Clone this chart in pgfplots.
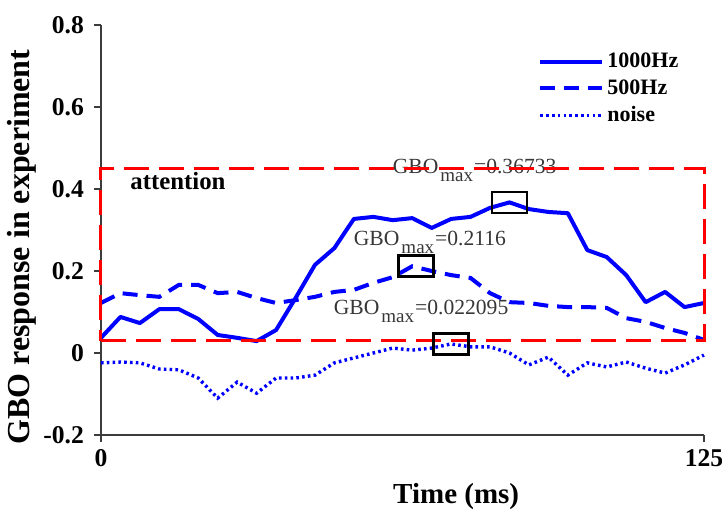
\documentclass[border=0pt]{standalone}
\usepackage{fontspec}
\setmainfont{Liberation Serif}
\usepackage{pgfplots}
\pgfplotsset{compat=1.18}
\definecolor{axisgray}{RGB}{60,60,60}
\definecolor{anngray}{RGB}{55,55,55}
\pgfdeclareplotmark{gbobox}{%
  \pgfpathrectangle{\pgfpoint{-8.75pt}{-5.25pt}}{\pgfpoint{17.5pt}{10.5pt}}%
  \pgfusepathqstroke}
\newcommand{\gbo}{GBO\kern1pt\raisebox{-4pt}{\fontsize{9.5}{10}\selectfont max}\kern0.5pt}
\begin{document}
\begin{tikzpicture}
\begin{axis}[
  scale only axis, width=301.5pt, height=205pt,
  xmin=0, xmax=31, ymin=-0.2, ymax=0.8,
  axis x line=bottom, axis y line=left,
  axis line style={-, line width=0.8pt, color=axisgray},
  xtick={0,31}, xticklabels={0,125},
  ytick={-0.2,0,0.2,0.4,0.6,0.8}, yticklabels={-0.2,0,0.2,0.4,0.6,0.8},
  tick align=outside, major tick length=3.5pt,
  tick style={line width=0.8pt, color=axisgray},
  tick label style={font=\bfseries\fontsize{12.8}{14}\selectfont},
  yticklabel style={xshift=-1.5pt},
  clip=false,
  xlabel={Time (ms)},
  xlabel style={at={(axis description cs:0.589,-0.151)}, anchor=center, font=\bfseries\fontsize{14.5}{16}\selectfont},
  ylabel={GBO response in experiment},
  ylabel style={at={(axis description cs:-0.131,0.4585)}, anchor=center, font=\bfseries\fontsize{16}{18}\selectfont},
  legend style={at={(axis description cs:0.7247,0.94)}, anchor=north west, draw=none, fill=none,
    inner sep=0pt, font=\bfseries\fontsize{11}{13}\selectfont, row sep=1.5pt,
    nodes={inner sep=1.5pt}},
  legend cell align=left,
  legend image code/.code={\draw[#1] (0pt,0pt) -- (31pt,0pt);},
]
% 1000Hz
\addplot[blue, line width=2pt, line join=round] coordinates {
(0,0.037)(1,0.088)(2,0.073)(3,0.107)(4,0.107)(5,0.083)(6,0.044)(7,0.037)
(8,0.029)(9,0.056)(10,0.134)(11,0.215)(12,0.256)(13,0.327)(14,0.332)(15,0.324)
(16,0.329)(17,0.305)(18,0.327)(19,0.332)(20,0.354)(21,0.36733)(22,0.351)(23,0.344)
(24,0.341)(25,0.251)(26,0.234)(27,0.190)(28,0.124)(29,0.149)(30,0.112)(31,0.122)};
\addlegendentry{1000Hz}
% 500Hz
\addplot[blue, line width=2pt, dash pattern=on 7.5pt off 4.5pt] coordinates {
(0,0.122)(1,0.146)(2,0.141)(3,0.137)(4,0.166)(5,0.166)(6,0.146)(7,0.149)
(8,0.134)(9,0.122)(10,0.129)(11,0.137)(12,0.149)(13,0.154)(14,0.171)(15,0.185)
(16,0.2116)(17,0.200)(18,0.190)(19,0.183)(20,0.146)(21,0.124)(22,0.122)(23,0.115)
(24,0.112)(25,0.112)(26,0.110)(27,0.085)(28,0.076)(29,0.061)(30,0.049)(31,0.032)};
\addlegendentry{500Hz}
% noise
\addplot[blue, line width=1.7pt, dash pattern=on 1.3pt off 1.6pt] coordinates {
(0,-0.024)(1,-0.022)(2,-0.024)(3,-0.039)(4,-0.041)(5,-0.061)(6,-0.110)(7,-0.071)
(8,-0.098)(9,-0.061)(10,-0.061)(11,-0.054)(12,-0.024)(13,-0.012)(14,0.000)(15,0.012)
(16,0.007)(17,0.012)(18,0.022095)(19,0.015)(20,0.015)(21,0.000)(22,-0.029)(23,-0.010)
(24,-0.054)(25,-0.024)(26,-0.034)(27,-0.022)(28,-0.037)(29,-0.049)(30,-0.029)(31,-0.005)};
\addlegendentry{noise}
% annotations
\node[anchor=base west, inner sep=0pt, text=anngray, font=\fontsize{10.8}{12}\selectfont] at (axis cs:14.98,0.439) {\gbo=0.36733};
\node[anchor=base west, inner sep=0pt, text=anngray, font=\fontsize{10.8}{12}\selectfont] at (axis cs:12.98,0.263) {\gbo=0.2116};
\node[anchor=base west, inner sep=0pt, text=anngray, font=\fontsize{10.8}{12}\selectfont] at (axis cs:11.95,0.093) {\gbo=0.022095};
\node[anchor=base west, inner sep=0pt, font=\bfseries\fontsize{12.4}{14}\selectfont] at (axis cs:1.49,0.398) {attention};
% attention window
\addplot[red, line width=1.5pt, dash pattern=on 12.5pt off 5pt, forget plot] coordinates {
(0,0.03)(31,0.03)(31,0.45)(0,0.45)(0,0.03)};
% peak boxes
\addplot[only marks, mark=gbobox, mark options={black, line width=1.3pt}, forget plot] coordinates {
(21,0.36733)(16.2,0.2116)(18,0.022095)};
\end{axis}
\pgfresetboundingbox
\path[use as bounding box] ([shift={(-50.5pt,-40.5pt)}]current axis.south west) rectangle ([shift={(9pt,12.5pt)}]current axis.north east);
\end{tikzpicture}
\end{document}
